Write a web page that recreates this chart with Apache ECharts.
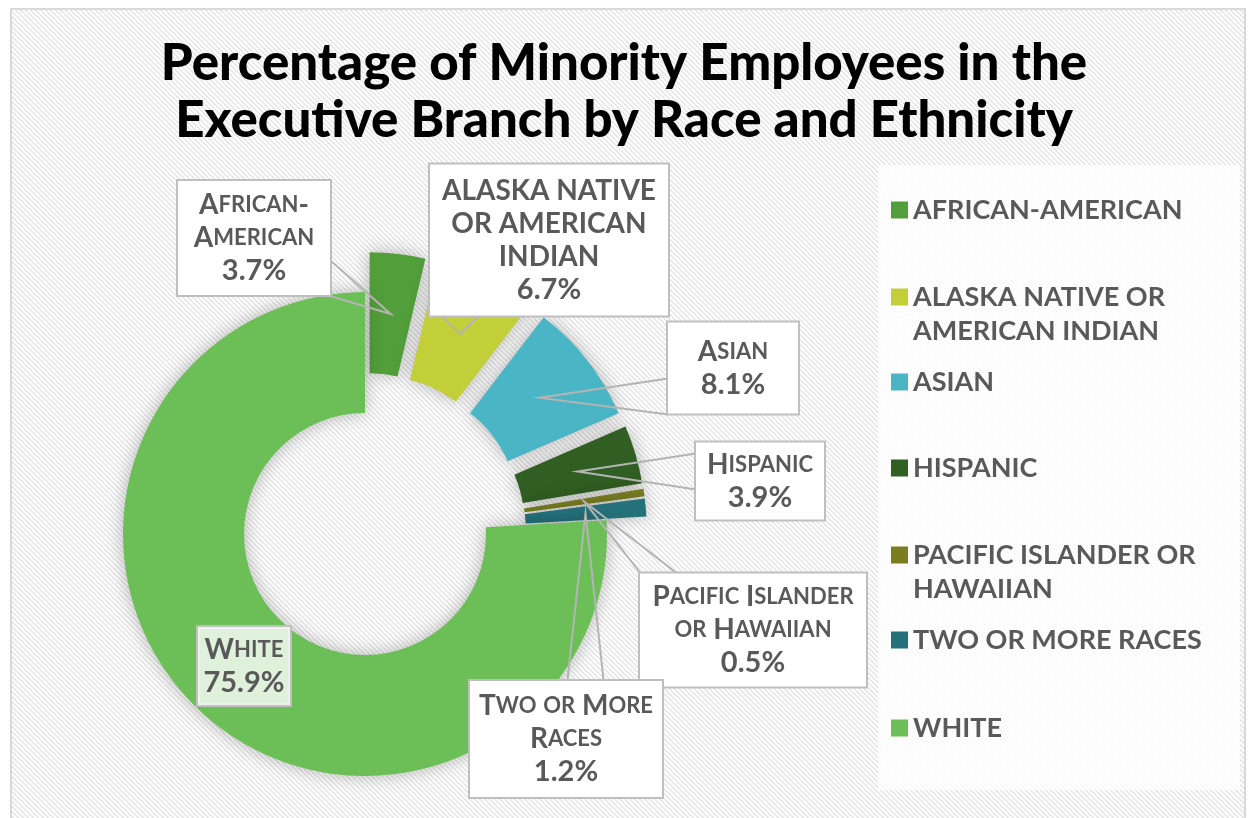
<!DOCTYPE html>
<html>
<head>
<meta charset="utf-8">
<title>Minority Employees by Race and Ethnicity</title>
<script src="https://cdn.jsdelivr.net/npm/echarts@6/dist/echarts.min.js"></script>
<style>
  html, body { margin: 0; padding: 0; background: #fff; }
  #main { width: 1248px; height: 818px; }
</style>
</head>
<body>
<div id="main"></div>
<script>
// data
const categories = ['African-American', 'Alaska Native or American Indian', 'Asian', 'Hispanic',
  'Pacific Islander or Hawaiian', 'Two or More Races', 'White'];
const values = [3.7, 6.7, 8.1, 3.9, 0.5, 1.2, 75.9];
const labelText = ['African-\nAmerican', 'ALASKA NATIVE\nOR AMERICAN\nINDIAN', 'Asian', 'Hispanic',
  'Pacific Islander\nor Hawaiian', 'Two or More\nRaces', 'White'];
const legendText = ['AFRICAN-AMERICAN', 'ALASKA NATIVE OR\nAMERICAN INDIAN', 'ASIAN', 'HISPANIC',
  'PACIFIC ISLANDER OR\nHAWAIIAN', 'TWO OR MORE RACES', 'WHITE'];
const exploded = [true, true, true, true, true, true, false];

// look
const colors = ['#529e3a', '#c2cf38', '#4ab5c4', '#315e23', '#7a7e20', '#25717a', '#6cbf56'];
const CX = 365, CY = 534, R_IN = 121, R_OUT = 242, EXPLODE = 40;
const labelPos = [[254, 238], [549, 240], [733, 368], [760, 481], [753, 630], [566, 739], [244, 666]];
const labelBox = [[152, 116], [238, 153], [130, 93], [128, 79], [226, 115], [192, 118], [92, 80]];
const legendRowY = [210, 297, 382, 468, 555, 640, 728];
const FONT = 'Lato';
const TEXT = '#595959';
const LINE_H = 33;
const CLEAR = 'rgba(0,0,0,0)';

function stripes() {
  const c = document.createElement('canvas');
  c.width = c.height = 5;
  const g = c.getContext('2d');
  g.fillStyle = '#fdfdfd';
  g.fillRect(0, 0, 5, 5);
  g.fillStyle = '#e6e6e6';
  for (let i = 0; i < 5; i++) {
    g.fillRect(i, i, 1, 1);
    g.fillRect((i + 1) % 5, i, 1, 1);
  }
  return c;
}

// "Small caps": lower case letters drawn as smaller capitals
function smallCaps(str) {
  return str.split('\n').map(line => {
    let out = '', cur = null, buf = '';
    for (const ch of line) {
      const cls = (ch >= 'a' && ch <= 'z') ? 's' : 'b';
      if (cls !== cur && buf) { out += '{' + cur + '|' + buf.toUpperCase() + '}'; buf = ''; }
      cur = cls;
      buf += ch;
    }
    if (buf) out += '{' + cur + '|' + buf.toUpperCase() + '}';
    return out;
  }).join('\n');
}

const rich = {
  b: { fontFamily: FONT, fontWeight: 'bold', fontSize: 28, color: TEXT, lineHeight: LINE_H },
  s: { fontFamily: FONT, fontWeight: 'bold', fontSize: 22, color: TEXT, lineHeight: LINE_H },
  p: { fontFamily: FONT, fontWeight: 'bold', fontSize: 29, color: TEXT, lineHeight: LINE_H }
};

// direction of each slice's middle, clockwise from 12 o'clock
const total = values.reduce((a, b) => a + b, 0);
let acc = 0;
const midAngle = values.map(v => {
  const m = (acc + v / 2) / total * 2 * Math.PI;
  acc += v;
  return m;
});
const centers = values.map((_, k) => {
  const off = exploded[k] ? EXPLODE : 0;
  return [CX + off * Math.sin(midAngle[k]), CY - off * Math.cos(midAngle[k])];
});

const clamp = (v, a, b) => Math.max(a, Math.min(b, v));

// callout: a "V" from the label box edge to the middle of the slice
function callout(i) {
  const r = (R_IN + R_OUT) / 2;
  const tx = centers[i][0] + r * Math.sin(midAngle[i]);
  const ty = centers[i][1] - r * Math.cos(midAngle[i]);
  const [lx, ly] = labelPos[i], [w, h] = labelBox[i];
  const x0 = lx - w / 2, x1 = lx + w / 2, y0 = ly - h / 2, y1 = ly + h / 2;
  const ex = tx < x0 ? x0 - tx : tx > x1 ? tx - x1 : 0;
  const ey = ty < y0 ? y0 - ty : ty > y1 ? ty - y1 : 0;
  const HALF = 18;
  if (ex >= ey) {
    const sx = tx < x0 ? x0 : x1;
    const c = clamp(ty, y0 + HALF, y1 - HALF);
    return [[sx, c - HALF], [tx, ty], [sx, c + HALF]];
  }
  const sy = ty < y0 ? y0 : y1;
  const c = clamp(tx, x0 + HALF, x1 - HALF);
  return [[c - HALF, sy], [tx, ty], [c + HALF, sy]];
}

function labelOpt(k) {
  const [w, h] = labelBox[k];
  const lines = labelText[k].split('\n').length + 1;
  const padV = Math.max(0, (h - lines * LINE_H) / 2 - 1);
  return {
    show: true,
    backgroundColor: k === 6 ? 'rgba(255,255,255,0.78)' : '#fff',
    width: w - 12,
    padding: [padV, 6]
  };
}

// one pie per slice, so exploded slices can be pushed out along their own direction
const sliceSeries = categories.map((_, k) => ({
  type: 'pie',
  center: centers[k],
  radius: [R_IN, R_OUT],
  startAngle: 90,
  clockwise: true,
  emphasis: { disabled: true },
  silent: true,
  label: { show: false },
  labelLine: { show: false },
  data: categories.map((name, i) => ({
    name: name,
    value: values[i],
    itemStyle: i === k
      ? { color: colors[i], shadowBlur: 18, shadowColor: 'rgba(0,0,0,0.28)' }
      : { color: CLEAR }
  }))
}));

// same pie again, invisible, carrying the callout labels above the slices
const labelSeries = {
  type: 'pie',
  z: 3,
  center: [CX, CY],
  radius: [R_IN, R_OUT],
  startAngle: 90,
  clockwise: true,
  avoidLabelOverlap: false,
  emphasis: { disabled: true },
  silent: true,
  label: {
    formatter: p => smallCaps(labelText[p.dataIndex]) + '\n{p|' + p.value.toFixed(1) + '%}',
    borderColor: '#bfbfbf',
    borderWidth: 2,
    overflow: 'none',
    rich: rich
  },
  labelLine: { lineStyle: { color: '#b4b4b4', width: 2 } },
  labelLayout: p => {
    const i = p.dataIndex;
    const out = { x: labelPos[i][0], y: labelPos[i][1], align: 'center', verticalAlign: 'middle' };
    if (exploded[i]) out.labelLinePoints = callout(i);
    return out;
  },
  data: categories.map((name, i) => ({
    name: name,
    value: values[i],
    itemStyle: { color: CLEAR },
    label: labelOpt(i),
    labelLine: { show: exploded[i] }
  }))
};

const chart = echarts.init(document.getElementById('main'));

chart.setOption({
  animation: false,
  graphic: [
    {
      type: 'rect', z: -10, silent: true,
      shape: { x: 11, y: 9, width: 1234, height: 820 },
      style: { fill: { image: stripes(), repeat: 'repeat' }, stroke: '#d9d9d9', lineWidth: 2 }
    },
    {
      type: 'rect', z: -9, silent: true,
      shape: { x: 878, y: 165, width: 362, height: 625 },
      style: { fill: 'rgba(255,255,255,0.75)' }
    }
  ],
  title: {
    text: 'Percentage of Minority Employees in the\nExecutive Branch by Race and Ethnicity',
    left: 'center',
    top: 30,
    textStyle: { fontFamily: FONT, fontWeight: 900, fontSize: 51, color: '#000', lineHeight: 57 }
  },
  legend: categories.map((name, i) => ({
    data: [{ name: name, itemStyle: { color: colors[i] } }],
    orient: 'vertical',
    left: 891,
    top: legendRowY[i] - 51,
    padding: 0,
    icon: 'rect',
    itemWidth: 17,
    itemHeight: 17,
    selectedMode: false,
    formatter: () => {
      const lines = legendText[i].split('\n');
      return ' \n' + lines[0] + '\n' + (lines[1] || ' ');
    },
    textStyle: { fontFamily: FONT, fontWeight: 'bold', fontSize: 27, color: TEXT, lineHeight: 34 }
  })),
  series: sliceSeries.concat([labelSeries])
});
</script>
</body>
</html>
